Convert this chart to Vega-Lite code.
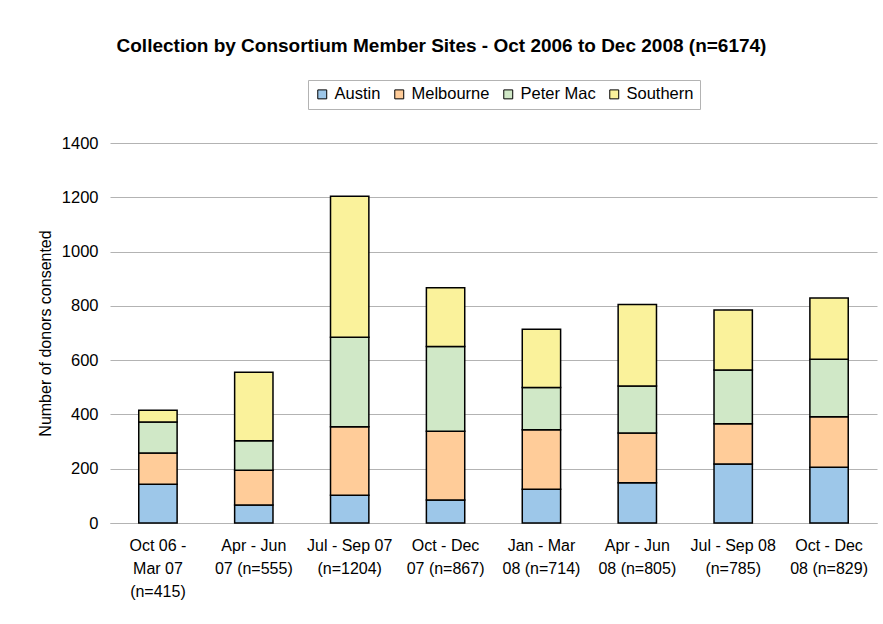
{
  "$schema": "https://vega.github.io/schema/vega-lite/v6.json",
  "autosize": {"type": "none"},
  "width": 767,
  "height": 380,
  "padding": {"left": 110, "top": 143, "right": 6, "bottom": 101},
  "background": "white",
  "config": {
    "font": "Liberation Sans",
    "view": {"stroke": null}
  },
  "title": {
    "text": "Collection by Consortium Member Sites - Oct 2006 to Dec 2008 (n=6174)",
    "fontSize": 19,
    "fontWeight": "bold",
    "color": "black",
    "anchor": "middle",
    "dx": -52,
    "offset": 24
  },
  "data": {
    "values": [
      {"period": "Oct 06 -|Mar 07|(n=415)", "site": "Austin", "donors": 143},
      {"period": "Oct 06 -|Mar 07|(n=415)", "site": "Melbourne", "donors": 115},
      {"period": "Oct 06 -|Mar 07|(n=415)", "site": "Peter Mac", "donors": 114},
      {"period": "Oct 06 -|Mar 07|(n=415)", "site": "Southern", "donors": 43},
      {"period": "Apr - Jun|07 (n=555)", "site": "Austin", "donors": 66},
      {"period": "Apr - Jun|07 (n=555)", "site": "Melbourne", "donors": 128},
      {"period": "Apr - Jun|07 (n=555)", "site": "Peter Mac", "donors": 109},
      {"period": "Apr - Jun|07 (n=555)", "site": "Southern", "donors": 252},
      {"period": "Jul - Sep 07|(n=1204)", "site": "Austin", "donors": 102},
      {"period": "Jul - Sep 07|(n=1204)", "site": "Melbourne", "donors": 253},
      {"period": "Jul - Sep 07|(n=1204)", "site": "Peter Mac", "donors": 329},
      {"period": "Jul - Sep 07|(n=1204)", "site": "Southern", "donors": 520},
      {"period": "Oct - Dec|07 (n=867)", "site": "Austin", "donors": 85},
      {"period": "Oct - Dec|07 (n=867)", "site": "Melbourne", "donors": 253},
      {"period": "Oct - Dec|07 (n=867)", "site": "Peter Mac", "donors": 312},
      {"period": "Oct - Dec|07 (n=867)", "site": "Southern", "donors": 217},
      {"period": "Jan - Mar|08 (n=714)", "site": "Austin", "donors": 124},
      {"period": "Jan - Mar|08 (n=714)", "site": "Melbourne", "donors": 220},
      {"period": "Jan - Mar|08 (n=714)", "site": "Peter Mac", "donors": 155},
      {"period": "Jan - Mar|08 (n=714)", "site": "Southern", "donors": 215},
      {"period": "Apr - Jun|08 (n=805)", "site": "Austin", "donors": 148},
      {"period": "Apr - Jun|08 (n=805)", "site": "Melbourne", "donors": 184},
      {"period": "Apr - Jun|08 (n=805)", "site": "Peter Mac", "donors": 173},
      {"period": "Apr - Jun|08 (n=805)", "site": "Southern", "donors": 300},
      {"period": "Jul - Sep 08|(n=785)", "site": "Austin", "donors": 217},
      {"period": "Jul - Sep 08|(n=785)", "site": "Melbourne", "donors": 149},
      {"period": "Jul - Sep 08|(n=785)", "site": "Peter Mac", "donors": 198},
      {"period": "Jul - Sep 08|(n=785)", "site": "Southern", "donors": 221},
      {"period": "Oct - Dec|08 (n=829)", "site": "Austin", "donors": 205},
      {"period": "Oct - Dec|08 (n=829)", "site": "Melbourne", "donors": 186},
      {"period": "Oct - Dec|08 (n=829)", "site": "Peter Mac", "donors": 212},
      {"period": "Oct - Dec|08 (n=829)", "site": "Southern", "donors": 226}
    ]
  },
  "mark": {"type": "bar", "stroke": "black", "strokeWidth": 1.5, "opacity": 1},
  "encoding": {
    "x": {
      "field": "period",
      "type": "nominal",
      "sort": null,
      "scale": {"paddingInner": 0.6, "paddingOuter": 0.3},
      "axis": {
        "title": null,
        "labelAngle": 0,
        "labelExpr": "split(datum.label, '|')",
        "labelFontSize": 16,
        "labelLineHeight": 23,
        "labelColor": "black",
        "labelPadding": 14,
        "ticks": false,
        "domainColor": "#b3b3b3",
        "domainWidth": 1
      }
    },
    "y": {
      "field": "donors",
      "type": "quantitative",
      "stack": "zero",
      "scale": {"domain": [0, 1400], "nice": false},
      "axis": {
        "title": "Number of donors consented",
        "titleFontSize": 16,
        "titleFontWeight": "normal",
        "titleColor": "black",
        "titlePadding": 8,
        "format": "d",
        "values": [0, 200, 400, 600, 800, 1000, 1200, 1400],
        "labelFontSize": 16.5,
        "labelColor": "black",
        "labelPadding": 12,
        "ticks": false,
        "domain": false,
        "grid": true,
        "gridColor": "#b3b3b3",
        "gridWidth": 1
      }
    },
    "color": {
      "field": "site",
      "type": "nominal",
      "scale": {
        "domain": ["Austin", "Melbourne", "Peter Mac", "Southern"],
        "range": ["#9dc7e9", "#ffcc99", "#d0e8c7", "#faf29b"]
      },
      "legend": {
        "title": null,
        "orient": "none",
        "legendX": 198,
        "legendY": -63,
        "direction": "horizontal",
        "symbolType": "square",
        "symbolSize": 80,
        "symbolStrokeColor": "black",
        "symbolStrokeWidth": 1,
        "symbolOpacity": 1,
        "labelFontSize": 16.5,
        "labelColor": "black",
        "labelOffset": 4,
        "columnPadding": 10,
        "strokeColor": "#b3b3b3",
        "padding": 6
      }
    },
    "order": {"field": "site", "sort": "ascending"}
  }
}
